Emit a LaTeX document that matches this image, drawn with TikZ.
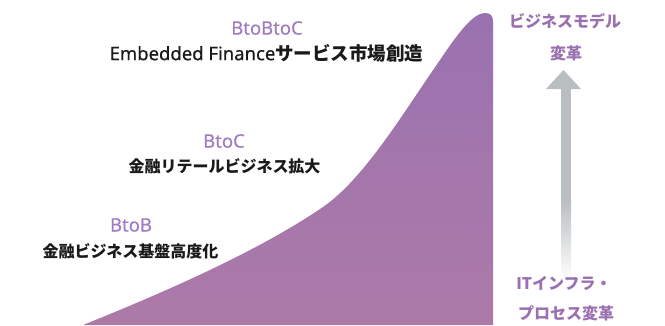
\documentclass[tikz,border=0pt]{standalone}
\usepackage{fontspec}
\setmainfont{Noto Sans}
\newfontfamily\cjk{Noto Sans CJK JP}
\newfontfamily\latinmed[FakeBold=0.4]{Noto Sans}
\definecolor{topfill}{HTML}{9A72B0}
\definecolor{botfill}{HTML}{AD7AA8}
\definecolor{lbl}{HTML}{A07DC0}
\definecolor{rlbl}{HTML}{9A70B0}
\definecolor{arrgray}{HTML}{B9BEC1}
\definecolor{txt}{HTML}{1A1A1A}
\tikzset{
  stage/.style={inner sep=0pt, text=lbl, font=\fontsize{18.5}{20}\latinmed},
  desc/.style={inner sep=0pt, text=txt, font=\fontsize{16}{18}\selectfont\cjk\bfseries},
  side/.style={inner sep=0pt, text=rlbl, font=\fontsize{16}{18}\selectfont\cjk\bfseries},
}
\begin{document}
\begin{tikzpicture}[x=1pt,y=-1pt]
\useasboundingbox (0,0) rectangle (665,325);
% curve shape
\shade[top color=topfill, bottom color=botfill]
  (83,325) .. controls (170,290) and (260,250) .. (323,207)
  .. controls (365,178) and (405,110) .. (440,60)
  .. controls (460,30) and (474,13) .. (485,13)
  .. controls (491,13) and (493,16) .. (493,22)
  -- (493,325) -- cycle;
% arrow
\fill[arrgray] (561,88) rectangle (571,200);
\shade[top color=arrgray, bottom color=white] (561,199.5) rectangle (571,280);
\fill[arrgray] (546,89) -- (563.5,70) -- (581,89) -- cycle;
% labels
\node[stage] (btobtoc) at (267,28) {BtoBtoC};
\node[inner sep=0pt, text=txt, font=\fontsize{18.5}{20}\latinmed] (emb) at (266.5,53) {Embedded Finance{\cjk\bfseries サービス市場創造}};
\node[stage] (btoc) at (224,141) {BtoC};
\node[desc] (retail) at (224.5,166) {金融リテールビジネス拡大};
\node[stage] (btob) at (131,225) {BtoB};
\node[desc] (base) at (130.5,251) {金融ビジネス基盤高度化};
\node[side] (bm1) at (565,21) {ビジネスモデル};
\node[side] (bm2) at (566,53) {変革};
\node[side] (it1) at (564,283) {ITインフラ・};
\node[side] (it2) at (566,313) {プロセス変革};
\end{tikzpicture}
\end{document}
